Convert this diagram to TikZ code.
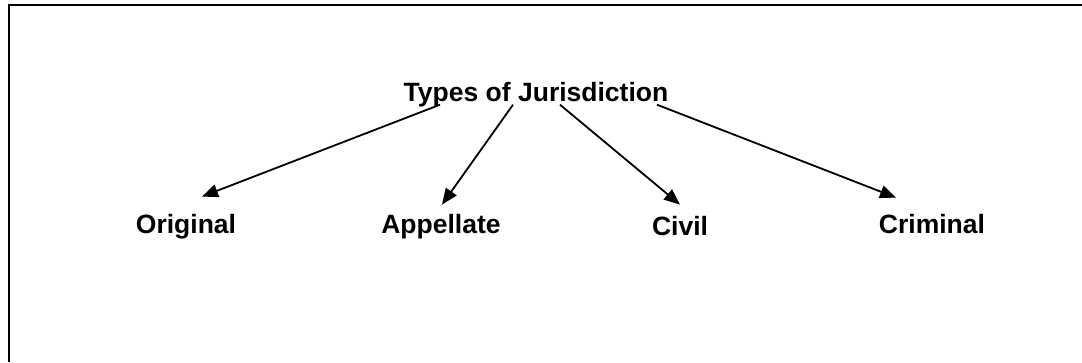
\documentclass[tikz,border=0pt]{standalone}
\usepackage{fontspec}
\setmainfont{Liberation Sans}
\usepackage{tikz}
\usetikzlibrary{arrows.meta,positioning}

\begin{document}
\begin{tikzpicture}[x=1pt,y=-1pt,
    lbl/.style={font=\fontsize{26.5}{30}\selectfont\bfseries,inner sep=0pt,anchor=base},
    arr/.style={-{Triangle[length=16pt,width=13pt]},line width=1.8pt}]
        \useasboundingbox (0,0) rectangle (1082,362);
        % Frame
        \draw[line width=2.8pt] (9,362) -- (9,5) -- (1082,5);
        % Title
        \node[lbl] (title) at (536,101) {Types of Jurisdiction};
        % Types
        \node[lbl] (orig) at (186,233) {Original};
        \node[lbl] (appel) at (441,233) {Appellate};
        \node[lbl] (civil) at (680,235) {Civil};
        \node[lbl] (crim) at (932,233) {Criminal};
        % Arrows
        \draw[arr] ([xshift=-96pt,yshift=2pt]title.south) -- ([xshift=16pt,yshift=17pt]orig.north);
        \draw[arr] ([xshift=-23pt,yshift=2pt]title.south) -- ([xshift=1pt,yshift=9pt]appel.north);
        \draw[arr] ([xshift=24pt,yshift=2pt]title.south) -- ([yshift=11pt]civil.north);
        \draw[arr] ([xshift=121pt,yshift=2pt]title.south) -- ([xshift=-36pt,yshift=16pt]crim.north);
      \end{tikzpicture}
\end{document}
